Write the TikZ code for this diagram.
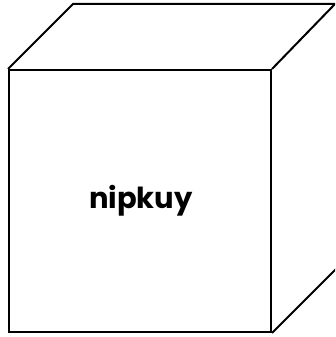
\documentclass[tikz,border=0pt]{standalone}
\usepackage{fontspec}
\setmainfont{Poppins}
\usepackage{tikz}
\tikzset{cubeface/.style={draw,line width=2pt,minimum width=262pt,minimum height=262pt,inner sep=0pt},
  cubelabel/.style={font=\fontsize{29}{34}\selectfont\bfseries}}

\begin{document}
\begin{tikzpicture}[x=1pt,y=-1pt,line width=2pt,line join=miter]
  \clip(0,0)rectangle(335,337);
  \fill[white](0,0)rectangle(335,337);
  \node[cubeface](front)at(140,201){};
  \node[cubelabel,anchor=base](label)at(141,208){nipkuy};
  \draw(front.north west)--++(65,-65)coordinate(backnw)--++(262,0)coordinate(backne)--(front.north east);
  \draw(front.south east)--++(65,-65)coordinate(backse);
\end{tikzpicture}
\end{document}
